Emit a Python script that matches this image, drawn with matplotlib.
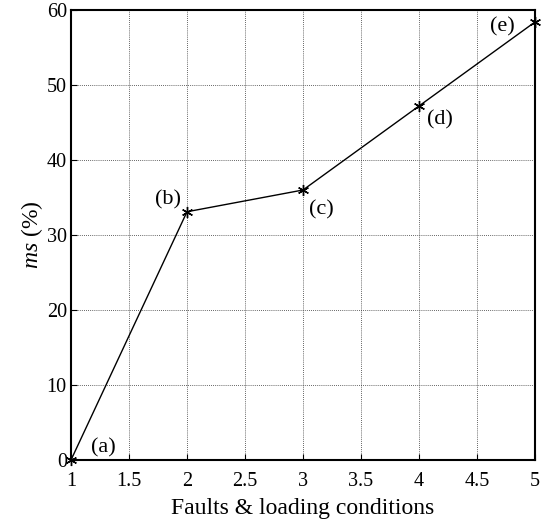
import matplotlib
matplotlib.use("Agg")
import matplotlib.pyplot as plt

x = [1, 2, 3, 4, 5]
ms = [0.0, 33.1, 36.0, 47.2, 58.4]
labels = ["(a)", "(b)", "(c)", "(d)", "(e)"]
label_pos = [(1.28, 1.6), (1.84, 34.7), (3.16, 33.4), (4.18, 45.3), (4.72, 57.7)]

plt.rcParams['font.family'] = ['Liberation Serif', 'DejaVu Serif']
plt.rcParams['mathtext.fontset'] = 'custom'
plt.rcParams['mathtext.it'] = 'Liberation Serif:italic'
plt.rcParams['mathtext.rm'] = 'Liberation Serif'

fig = plt.figure(figsize=(5.47, 5.24), dpi=100)
ax = fig.add_axes([71/547, 1 - 460/524, (535-71)/547, (460-10)/524])
ax.plot(x, ms, color='black', lw=1.0, marker=(6, 2, 0), markersize=8,
        markeredgewidth=1.0, clip_on=False, zorder=3)
for (tx, ty), t in zip(label_pos, labels):
    ax.text(tx, ty, t, fontsize=16, ha='center', va='center')
ax.set_xlim(1, 5)
ax.set_ylim(0, 60)
ax.set_xticks([1, 1.5, 2, 2.5, 3, 3.5, 4, 4.5, 5])
ax.set_xticklabels(['1', '1.5', '2', '2.5', '3', '3.5', '4', '4.5', '5'])
ax.set_yticks([0, 10, 20, 30, 40, 50, 60])
ax.grid(True, color='#333333', linestyle=(0, (1, 1.5)), linewidth=0.6)
ax.tick_params(direction='in', length=4, labelsize=14.5, width=0.8)
ax.tick_params(axis='x', pad=9)
ax.tick_params(axis='y', pad=3)
for s in ax.spines.values():
    s.set_linewidth(1.5)
ax.set_xlabel('Faults & loading conditions', fontsize=17, labelpad=5)
ax.set_ylabel(r'$ms$ (%)', fontsize=17, labelpad=1)
fig.savefig('out.png', dpi=100)
